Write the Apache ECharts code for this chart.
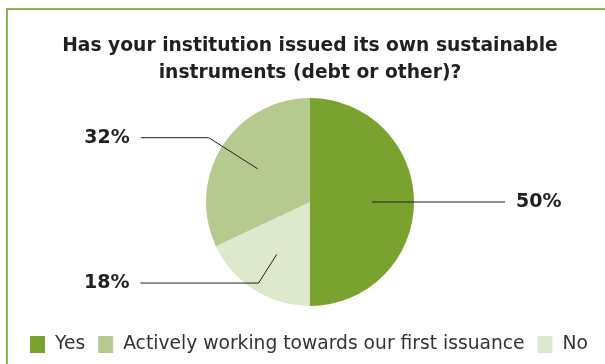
<!DOCTYPE html>
<html>
<head>
<meta charset="utf-8">
<script src="https://cdn.jsdelivr.net/npm/echarts@6/dist/echarts.min.js"></script>
<style>
  html, body { margin: 0; padding: 0; background: #ffffff; }
  #chart { width: 605px; height: 364px; }
</style>
</head>
<body>
<div id="chart"></div>
<script>
// Survey answers, in clockwise drawing order starting at 12 o'clock
const categories = ['Yes', 'No', 'Actively working towards our first issuance'];
const shares = [50, 18, 32];
const colors = ['#79a22f', '#dde8cd', '#b6c98e'];
// Legend reads in a different order than the slices are drawn
const legendOrder = ['Yes', 'Actively working towards our first issuance', 'No'];
// Leader line lengths per slice: [radial segment, horizontal segment]
const leaderLengths = [[62, 71], [34, 118], [58, 68]];

const title = 'Has your institution issued its own sustainable\ninstruments (debt or other)?';
const font = 'DejaVu Sans';

const chart = echarts.init(document.getElementById('chart'), null, { renderer: 'canvas' });

const sliceData = categories.map((name, i) => ({
  name,
  value: shares[i],
  itemStyle: { color: colors[i] }
}));

const labelData = categories.map((name, i) => ({
  name,
  value: shares[i],
  labelLine: { length: leaderLengths[i][0], length2: leaderLengths[i][1] }
}));

chart.setOption({
  animation: false,
  backgroundColor: '#ffffff',
  graphic: [{
    type: 'rect',
    shape: { x: 7, y: 9, width: 640, height: 400 },
    style: { fill: 'none', stroke: '#8cb553', lineWidth: 2 },
    z: 0
  }],
  title: {
    text: title,
    left: 305,
    textAlign: 'center',
    top: 28,
    textStyle: {
      fontFamily: font,
      fontWeight: 'bold',
      fontSize: 18.7,
      lineHeight: 27,
      color: '#231f20'
    }
  },
  legend: {
    data: legendOrder,
    left: 25,
    top: 330,
    icon: 'rect',
    itemWidth: 15,
    itemHeight: 17,
    itemGap: 13,
    textStyle: { fontFamily: font, fontSize: 18.7, color: '#333333', padding: [0, 0, 0, 5] }
  },
  series: [
    {
      type: 'pie',
      center: [310, 202],
      radius: [0, 104],
      startAngle: 90,
      clockwise: true,
      data: sliceData,
      label: { show: false },
      labelLine: { show: false },
      emphasis: { disabled: true },
      z: 2
    },
    {
      // transparent copy of the slices that only carries the percentage labels
      type: 'pie',
      center: [310, 202],
      radius: [0, 62],
      startAngle: 90,
      clockwise: true,
      silent: true,
      avoidLabelOverlap: false,
      data: labelData,
      itemStyle: { color: 'rgba(0,0,0,0)' },
      label: {
        show: true,
        position: 'outside',
        formatter: '{c}%',
        fontFamily: font,
        fontWeight: 'bold',
        fontSize: 19,
        color: '#231f20',
        distanceToLabelLine: 11
      },
      labelLine: {
        show: true,
        smooth: false,
        lineStyle: { color: '#231f20', width: 1 }
      },
      emphasis: { disabled: true },
      z: 3
    }
  ]
});
</script>
</body>
</html>
